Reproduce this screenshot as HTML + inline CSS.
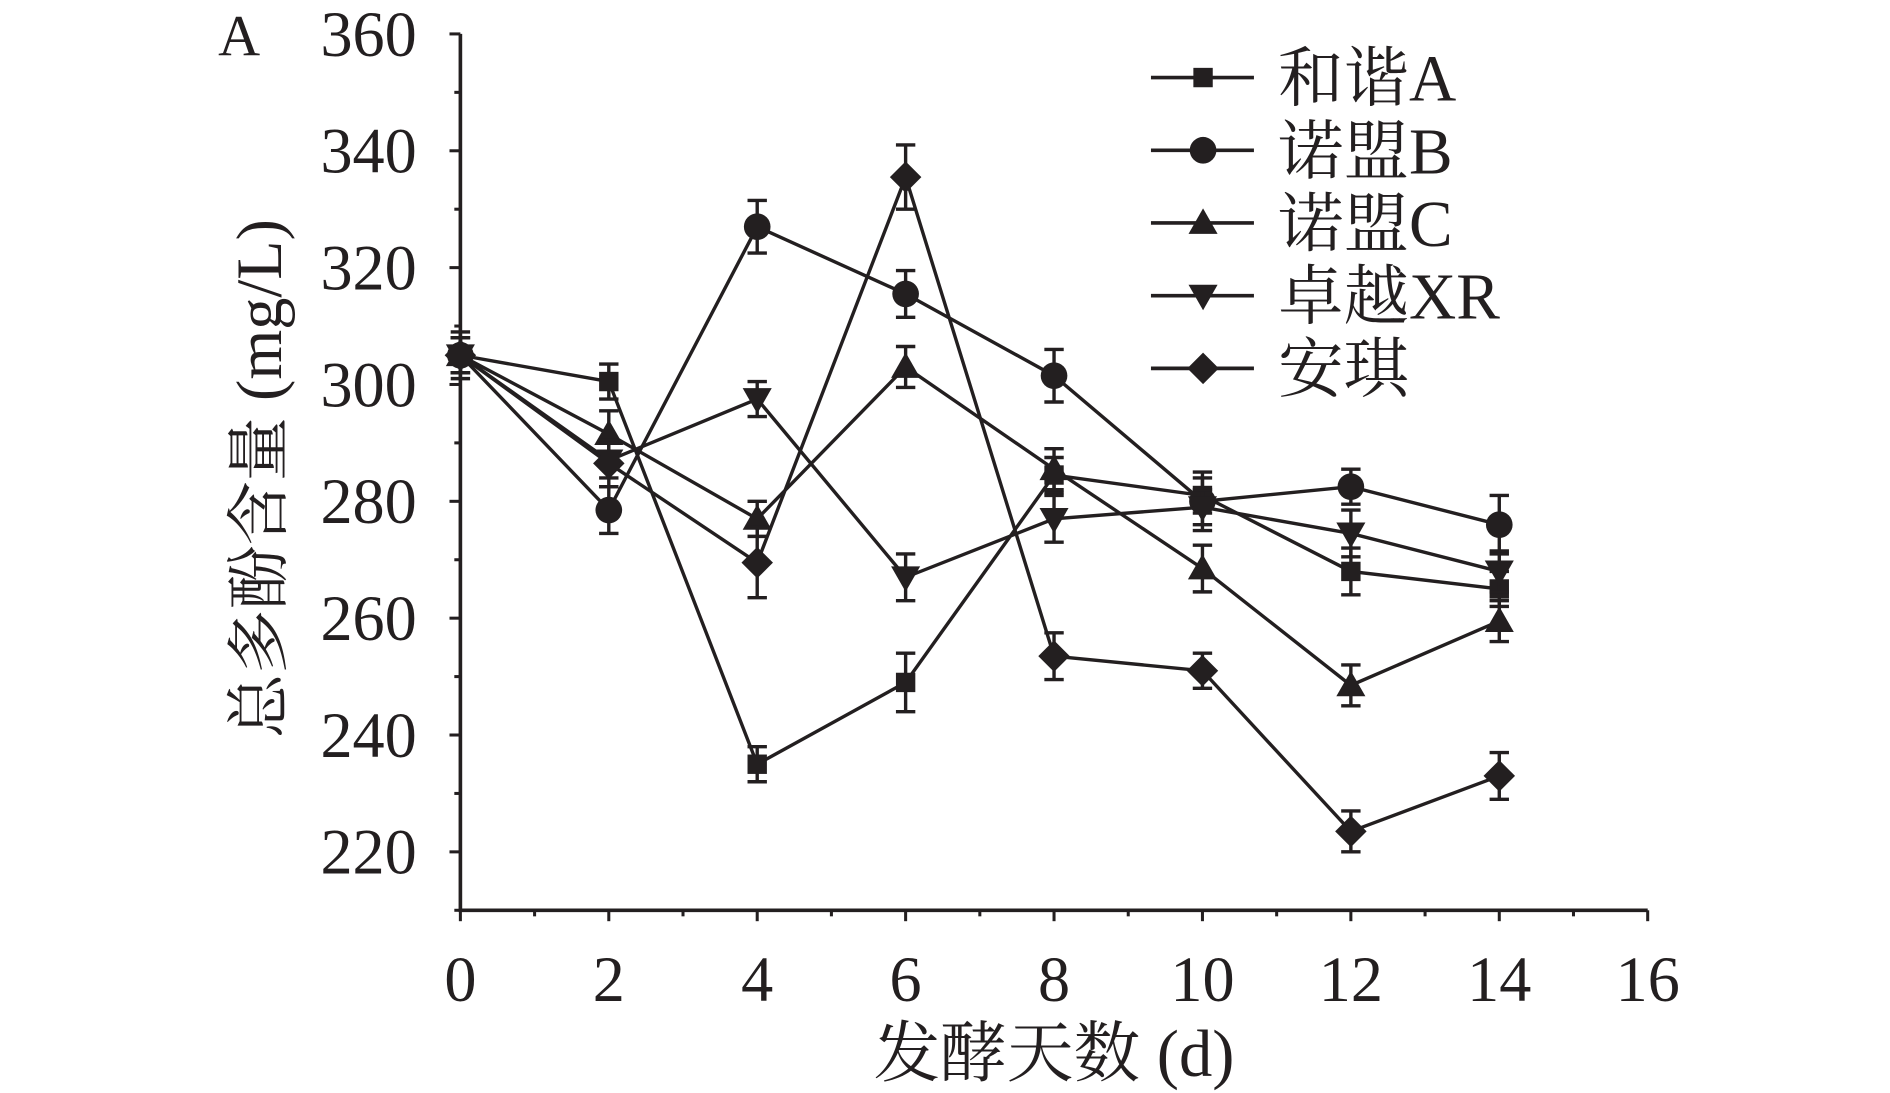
<!DOCTYPE html>
<html><head><meta charset="utf-8"><style>
html,body{margin:0;padding:0;background:#fff;}
svg{display:block;}
text{font-family:"Liberation Serif","Noto Serif CJK SC","Noto Sans CJK SC",serif;fill:#231f20;}
</style></head><body>
<svg id="chart" width="1890" height="1093" viewBox="0 0 1560 902" preserveAspectRatio="none" xmlns="http://www.w3.org/2000/svg">
<g id="axes"></g>
<g id="series"></g>
<g id="legend"></g>
<text x="180" y="46" font-size="48">A</text>
<text x="870" y="888" font-size="55" text-anchor="middle">发酵天数 (d)</text>
<text transform="translate(232,395) rotate(-90)" font-size="53" text-anchor="middle">总多酚含量 (mg/L)</text>
</svg>
<script>
const days=[0,2,4,6,8,10,12,14];
const names=["和谐A","诺盟B","诺盟C","卓越XR","安琪"];
const markers=["square","circle","up","down","diamond"];
const valA=[305,300.5,235,249,284.5,281,268,265];
const valB=[305,278.5,327,315.5,301.5,280,282.5,276];
const valC=[305,291.5,277,303,285.5,268.5,248.5,259.5];
const valXR=[305,287,297.5,267,277,279,274.5,268];
const valAQ=[305,286.5,269.5,335.5,253.5,251,223.5,233];
const errA=[3,3,3,5,3,3,4,3];
const errB=[3,4,4.5,4,4.5,5,3,5];
const errC=[3,4,3,3.5,3.5,4,3.5,3.5];
const errXR=[3,3,3,4,4,3,4,3.5];
const errAQ=[4,4,6,5.5,4,3,3.5,4];
const yTicks=[220,240,260,280,300,320,340,360];
const xTicks=[0,2,4,6,8,10,12,14,16];
const NS="http://www.w3.org/2000/svg";
const C="#231f20";
const X=d=>380+d*(1360-380)/16;
const Y=v=>703-(v-220)*(703-28)/140;
function mk(tag,attrs,parent){const e=document.createElementNS(NS,tag);for(const k in attrs)e.setAttribute(k,attrs[k]);parent.appendChild(e);return e;}
const ax=document.getElementById('axes');
let e=mk('line',{x1:380,y1:Y(360),x2:380,y2:Y(210),stroke:C,'stroke-width':3},ax);


e=mk('line',{x1:378.5,y1:Y(210),x2:1360,y2:Y(210),stroke:C,'stroke-width':3},ax);


for(let v=210;v<=360;v+=10){const maj=yTicks.includes(v);mk('line',{x1:380-(maj?9:5),y1:Y(v),x2:380,y2:Y(v),stroke:C,'stroke-width':2.5},ax);}
yTicks.forEach(v=>{const t=mk('text',{x:344,y:Y(v)+18,'font-size':53,'text-anchor':'end'},ax);t.textContent=v;

});
for(let d=0;d<=16;d++){const maj=d%2==0;mk('line',{x1:X(d),y1:Y(210),x2:X(d),y2:Y(210)+(maj?9:5),stroke:C,'stroke-width':2.5},ax);}
xTicks.forEach(d=>{const t=mk('text',{x:X(d),y:826,'font-size':53,'text-anchor':'middle'},ax);t.textContent=d;

});
function marker(type,cx,cy,g){
 if(type==="square")return mk('rect',{x:cx-8,y:cy-8,width:16,height:16,fill:C},g);
 if(type==="circle")return mk('circle',{cx:cx,cy:cy,r:11,fill:C},g);
 if(type==="up")return mk('polygon',{points:`${cx},${cy-12} ${cx+12},${cy+9} ${cx-12},${cy+9}`,fill:C},g);
 if(type==="down")return mk('polygon',{points:`${cx},${cy+12} ${cx+12},${cy-9} ${cx-12},${cy-9}`,fill:C},g);
 return mk('polygon',{points:`${cx},${cy-13} ${cx+13},${cy} ${cx},${cy+13} ${cx-13},${cy}`,fill:C},g);
}
const vals=[valA,valB,valC,valXR,valAQ], errs=[errA,errB,errC,errXR,errAQ];
const sg=document.getElementById('series');
vals.forEach((vs,i)=>{
 const g=mk('g',{},sg);
 
 
 const pl=mk('polyline',{points:vs.map((v,j)=>X(days[j])+','+Y(v)).join(' '),fill:'none',stroke:C,'stroke-width':2.8},g);
 
 
 vs.forEach((v,j)=>{
  const x=X(days[j]),e1=errs[i][j];
  mk('line',{x1:x,y1:Y(v+e1),x2:x,y2:Y(v-e1),stroke:C,'stroke-width':2.8},g);
  mk('line',{x1:x-8,y1:Y(v+e1),x2:x+8,y2:Y(v+e1),stroke:C,'stroke-width':2.8},g);
  mk('line',{x1:x-8,y1:Y(v-e1),x2:x+8,y2:Y(v-e1),stroke:C,'stroke-width':2.8},g);
  const m=marker(markers[i],x,Y(v),g);
  
  
 });
});
const lg=document.getElementById('legend');
names.forEach((n,i)=>{
 const y=64+i*60;
 const g=mk('g',{},lg);
 
 
 mk('line',{x1:950,y1:y,x2:1035,y2:y,stroke:C,'stroke-width':3},g);
 marker(markers[i],993,y,g);
 const t=mk('text',{x:1055,y:y+19,'font-size':54},g);t.textContent=n;
});
</script>
</body></html>
